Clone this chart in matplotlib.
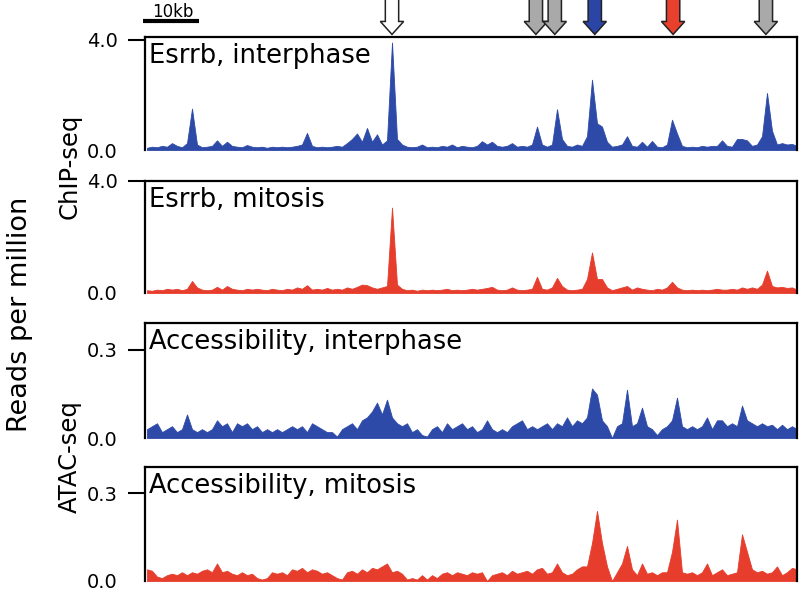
import numpy as np
import matplotlib
matplotlib.use("Agg")
import matplotlib.pyplot as plt
from matplotlib.patches import Polygon

plt.rcParams['font.family'] = ['DejaVu Sans']

# ---------------- data ----------------
bin_kb = 0.9
chip_interphase = [
    0.08, 0.12, 0.10, 0.15, 0.12, 0.25, 0.15, 0.10, 0.25, 1.50,
    0.20, 0.10, 0.12, 0.15, 0.35, 0.15, 0.30, 0.15, 0.12, 0.10,
    0.18, 0.12, 0.10, 0.12, 0.08, 0.12, 0.10, 0.12, 0.10, 0.12,
    0.15, 0.20, 0.62, 0.15, 0.10, 0.12, 0.10, 0.12, 0.15, 0.12,
    0.25, 0.40, 0.60, 0.30, 0.80, 0.30, 0.57, 0.20, 0.35, 3.90,
    0.40, 0.20, 0.12, 0.10, 0.12, 0.20, 0.10, 0.12, 0.10, 0.15,
    0.12, 0.20, 0.10, 0.15, 0.12, 0.10, 0.15, 0.32, 0.20, 0.30,
    0.15, 0.12, 0.15, 0.25, 0.12, 0.15, 0.12, 0.20, 0.85, 0.20,
    0.12, 0.20, 1.48, 0.40, 0.15, 0.12, 0.20, 0.15, 0.50, 2.55,
    0.97, 0.85, 0.30, 0.12, 0.15, 0.20, 0.50, 0.15, 0.12, 0.30,
    0.12, 0.33, 0.12, 0.10, 0.20, 1.10, 0.60, 0.15, 0.10, 0.12,
    0.10, 0.15, 0.12, 0.15, 0.15, 0.35, 0.15, 0.12, 0.40, 0.40,
    0.35, 0.15, 0.20, 0.50, 2.07, 0.70, 0.20, 0.25, 0.20, 0.22,
    0.15]
chip_mitosis = [
    0.10, 0.08, 0.12, 0.10, 0.15, 0.12, 0.15, 0.10, 0.15, 0.43,
    0.20, 0.12, 0.10, 0.12, 0.22, 0.12, 0.25, 0.15, 0.12, 0.10,
    0.15, 0.12, 0.15, 0.12, 0.10, 0.15, 0.12, 0.10, 0.15, 0.12,
    0.20, 0.15, 0.28, 0.12, 0.15, 0.12, 0.18, 0.12, 0.15, 0.12,
    0.20, 0.15, 0.22, 0.30, 0.28, 0.20, 0.15, 0.20, 0.25, 3.05,
    0.30, 0.15, 0.10, 0.12, 0.08, 0.12, 0.10, 0.12, 0.10, 0.12,
    0.15, 0.10, 0.12, 0.10, 0.12, 0.15, 0.12, 0.15, 0.18, 0.22,
    0.12, 0.10, 0.12, 0.20, 0.12, 0.10, 0.12, 0.15, 0.58, 0.15,
    0.12, 0.20, 0.54, 0.25, 0.12, 0.10, 0.12, 0.15, 0.50, 1.45,
    0.50, 0.50, 0.20, 0.10, 0.15, 0.20, 0.25, 0.12, 0.20, 0.15,
    0.12, 0.10, 0.15, 0.12, 0.20, 0.40, 0.20, 0.12, 0.10, 0.12,
    0.10, 0.12, 0.10, 0.12, 0.15, 0.12, 0.12, 0.15, 0.12, 0.20,
    0.15, 0.20, 0.15, 0.30, 0.80, 0.25, 0.20, 0.22, 0.18, 0.20,
    0.12]
atac_interphase = [
    .03, .04, .05, .02, .03, .04, .02, .03, .08, .03,
    .02, .03, .02, .03, .06, .04, .05, .02, .05, .04,
    .05, .03, .04, .02, .03, .02, .03, .02, .03, .04,
    .03, .04, .02, .05, .04, .03, .02, .02, .005, .03,
    .04, .05, .03, .06, .07, .09, .12, .08, .13, .07,
    .05, .04, .05, .02, .03, .01, .005, .03, .04, .02,
    .05, .03, .04, .05, .03, .04, .02, .03, .06, .03,
    .02, .03, .02, .04, .05, .06, .03, .04, .03, .04,
    .05, .03, .05, .04, .07, .04, .06, .05, .07, .168,
    .147, .06, .04, .0, .04, .05, .164, .04, .05, .103,
    .04, .03, .01, .03, .04, .06, .137, .04, .03, .04,
    .03, .04, .07, .03, .06, .06, .04, .05, .04, .11,
    .06, .05, .04, .05, .04, .045, .03, .045, .03, .04,
    .03]
atac_mitosis = [
    .04, .035, .015, .01, .02, .025, .02, .03, .02, .03,
    .025, .035, .04, .03, .06, .03, .035, .025, .02, .03,
    .02, .025, .01, .005, .01, .03, .025, .03, .02, .04,
    .035, .045, .03, .04, .035, .025, .03, .02, .01, .005,
    .03, .035, .025, .04, .03, .045, .04, .05, .06, .03,
    .035, .025, .005, .01, .005, .02, .005, .02, .01, .025,
    .03, .02, .03, .025, .02, .03, .025, .03, .0, .02,
    .025, .03, .02, .035, .025, .03, .035, .025, .04, .045,
    .025, .03, .06, .03, .02, .025, .04, .05, .05, .13,
    .24, .13, .05, .0, .03, .06, .12, .04, .02, .06,
    .025, .03, .02, .03, .03, .10, .21, .03, .025, .03,
    .02, .03, .06, .02, .03, .04, .02, .025, .03, .16,
    .10, .04, .03, .035, .025, .03, .05, .02, .03, .045,
    .04]

track_labels = ["Esrrb, interphase", "Esrrb, mitosis",
                "Accessibility, interphase", "Accessibility, mitosis"]
track_ymax = [4.1, 4.0, 0.39, 0.39]
track_ticks = [4.0, 4.0, 0.3, 0.3]
tick_labels = ["4.0", "4.0", "0.3", "0.3"]

arrow_kb = [44.1, 70.0, 73.4, 80.6, 94.7, 111.4]
arrow_colors = ["white", "#a9a9a9", "#a9a9a9", "#2b45a6", "#e8402c", "#a9a9a9"]
scalebar_kb = [-0.7, 9.3]

BLUE = "#2d4aa8"
RED = "#e63d2c"
track_colors = [BLUE, RED, BLUE, RED]
tracks = [chip_interphase, chip_mitosis, atac_interphase, atac_mitosis]

# ---------------- figure ----------------
W, H = 800, 591
fig = plt.figure(figsize=(W / 100, H / 100), dpi=100)

xlim = (-0.36, 117.0)
left_px, right_px = 145, 797
panels_px = [(37, 150), (181, 293), (323, 438), (467, 581)]

def frac_rect(top, bottom):
    return [left_px / W, 1 - bottom / H, (right_px - left_px) / W, (bottom - top) / H]

for k, (top, bot) in enumerate(panels_px):
    ax = fig.add_axes(frac_rect(top, bot))
    vals = np.asarray(tracks[k])
    pos = np.arange(len(vals)) * bin_kb
    ax.fill_between(pos, 0, vals, color=track_colors[k], lw=0.6,
                    edgecolor=track_colors[k])
    ax.set_xlim(*xlim)
    ax.set_ylim(0, track_ymax[k])
    ax.set_xticks([])
    ax.set_yticks([0, track_ticks[k]])
    ax.set_yticklabels(["0.0", tick_labels[k]])
    ax.tick_params(axis='y', length=12.5, width=1.5, pad=7, labelsize=14)
    ax.yaxis.get_major_ticks()[0].tick1line.set_visible(False)
    for s in ['left', 'top', 'right']:
        ax.spines[s].set_linewidth(1.6)
    ax.spines['bottom'].set_visible(False)
    ax.annotate(track_labels[k], xy=(0, 1), xycoords='axes fraction',
                xytext=(3, -4), textcoords='offset points',
                ha='left', va='top', fontsize=18.5)

# annotation strip (arrows + scale bar)
axa = fig.add_axes([left_px / W, 1 - 37 / H, (right_px - left_px) / W, 37 / H])
axa.set_xlim(*xlim)
axa.set_ylim(0, 1)
axa.axis('off')
shaft_hw, head_hw = 1.2, 2.1
tip_y, head_y, top_y = 0.07, 0.42, 1.05
for xk, c in zip(arrow_kb, arrow_colors):
    pts = [(xk - shaft_hw, top_y), (xk + shaft_hw, top_y), (xk + shaft_hw, head_y),
           (xk + head_hw, head_y), (xk, tip_y), (xk - head_hw, head_y),
           (xk - shaft_hw, head_y)]
    axa.add_patch(Polygon(pts, closed=True, facecolor=c, edgecolor='#222222',
                          lw=1.1, clip_on=False))
axa.plot(scalebar_kb, [0.44, 0.44], color='black', lw=3, solid_capstyle='butt',
         clip_on=False)
axa.text(np.mean(scalebar_kb) + 0.3, 0.55, "10kb", ha='center', va='baseline',
         fontsize=12)

fig.text(70 / W, 1 - 166 / H, "ChIP-seq", rotation=90, ha='center', va='center',
         fontsize=17.5)
fig.text(70 / W, 1 - 457 / H, "ATAC-seq", rotation=90, ha='center', va='center',
         fontsize=17.5)
fig.text(20 / W, 1 - 314 / H, "Reads per million", rotation=90, ha='center',
         va='center', fontsize=19.5)

fig.savefig("out.png", dpi=100)
